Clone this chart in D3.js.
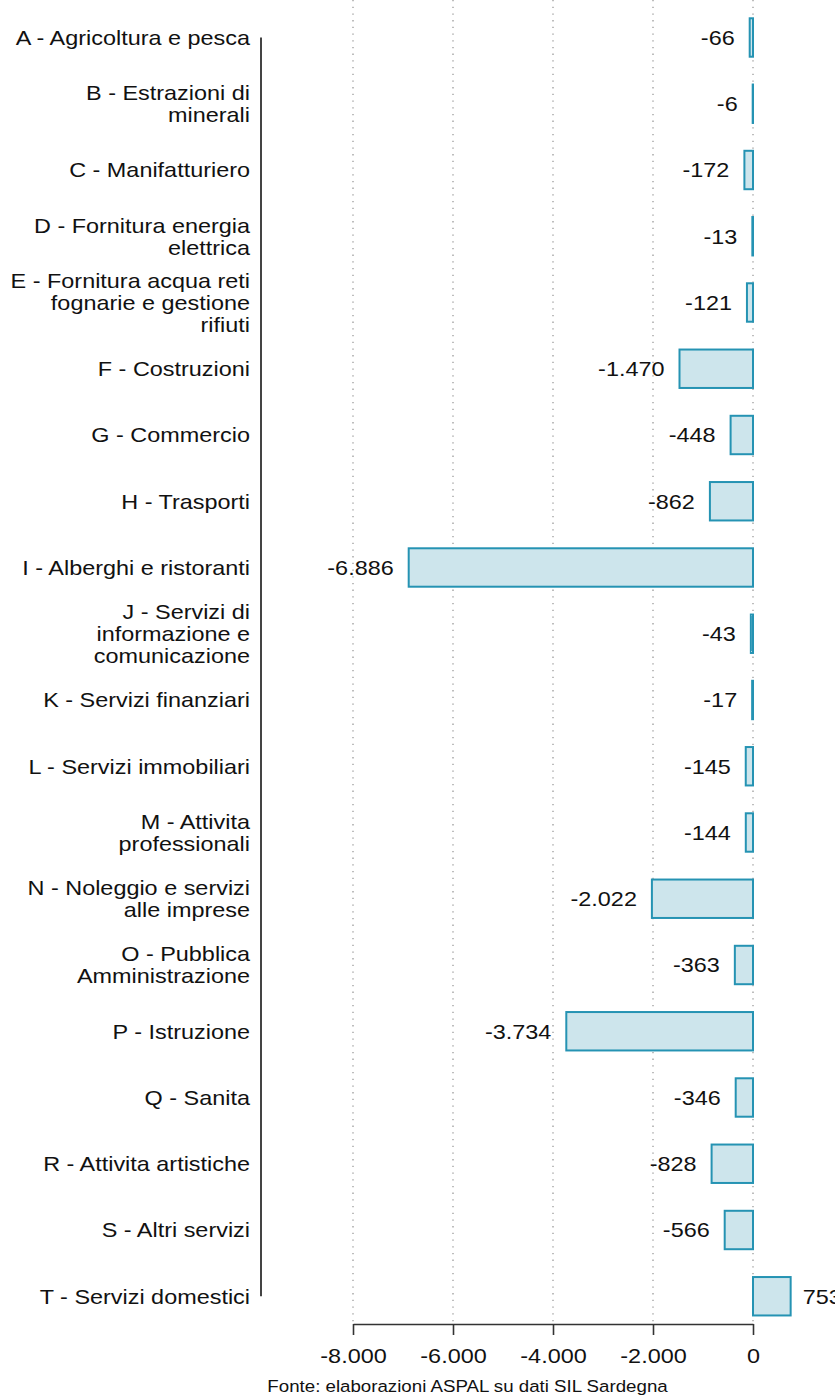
<!DOCTYPE html>
<html><head><meta charset="utf-8">
<script src="https://cdn.jsdelivr.net/npm/d3@7"></script>
<style>
html,body{margin:0;padding:0;background:#fff;}
svg{display:block;font-family:"Liberation Sans",Arial,sans-serif;}
</style></head>
<body><svg id="c" width="835" height="1395"></svg>
<script>
const categories = [
  "A - Agricoltura e pesca",
  "B - Estrazioni di\nminerali",
  "C - Manifatturiero",
  "D - Fornitura energia\nelettrica",
  "E - Fornitura acqua reti\nfognarie e gestione\nrifiuti",
  "F - Costruzioni",
  "G - Commercio",
  "H - Trasporti",
  "I - Alberghi e ristoranti",
  "J - Servizi di\ninformazione e\ncomunicazione",
  "K - Servizi finanziari",
  "L - Servizi immobiliari",
  "M - Attivita\nprofessionali",
  "N - Noleggio e servizi\nalle imprese",
  "O - Pubblica\nAmministrazione",
  "P - Istruzione",
  "Q - Sanita",
  "R - Attivita artistiche",
  "S - Altri servizi",
  "T - Servizi domestici"
];
const values = [-66, -6, -172, -13, -121, -1470, -448, -862, -6886, -43, -17, -145, -144, -2022, -363, -3734, -346, -828, -566, 753];
const xTicks = [-8000, -6000, -4000, -2000, 0];
const sourceText = "Fonte: elaborazioni ASPAL su dati SIL Sardegna";

const SX = 1.115; // horizontal text stretch seen in the reference
const svg = d3.select("#c");
const loc = d3.formatLocale({decimal: ",", thousands: ".", grouping: [3], currency: ["", "€"], minus: "-"});
const fmt = loc.format(",d");

const x = d3.scaleLinear().domain([-8000, 0]).range([353, 753]);
const y = d3.scaleBand().domain(categories).range([4.375, 1329.375]).paddingInner(0.42).paddingOuter(0.21);
const yc = (i) => y(categories[i]) + y.bandwidth() / 2;

// gridlines
svg.append("g").selectAll("line").data(xTicks).join("line")
  .attr("x1", d => x(d)).attr("x2", d => x(d))
  .attr("y1", 0).attr("y2", 1322)
  .attr("stroke", "#9a9a9a").attr("stroke-width", 1.3)
  .attr("stroke-dasharray", "1.3,5.4");

// bars
svg.append("g").selectAll("rect").data(values).join("rect")
  .attr("x", d => x(Math.min(0, d)))
  .attr("width", d => Math.abs(x(d) - x(0)))
  .attr("y", (d, i) => y(categories[i]))
  .attr("height", y.bandwidth())
  .attr("fill", "#cde5ec")
  .attr("stroke", "#2593b3")
  .attr("stroke-width", 2);

// value labels
svg.append("g").selectAll("text").data(values).join("text")
  .attr("transform", (d, i) => `translate(${d < 0 ? x(d) - 15 : x(d) + 12},${yc(i)}) scale(${SX},1)`)
  .attr("dy", "0.35em")
  .attr("text-anchor", d => d < 0 ? "end" : "start")
  .attr("font-size", 21).attr("fill", "#111")
  .text(d => fmt(d));

// left axis line
svg.append("line").attr("x1", 261).attr("x2", 261).attr("y1", yc(0)).attr("y2", yc(categories.length - 1))
  .attr("stroke", "#444").attr("stroke-width", 2);

// category labels
const lab = svg.append("g").selectAll("text").data(categories).join("text")
  .attr("text-anchor", "end").attr("font-size", 21).attr("fill", "#111")
  .attr("transform", (d, i) => `translate(250,${yc(i)}) scale(${SX},1)`);
lab.each(function(d) {
  const lines = d.split("\n");
  const n = lines.length;
  d3.select(this).selectAll("tspan").data(lines).join("tspan")
    .attr("x", 0)
    .attr("y", (l, j) => (j - (n - 1) / 2) * 22)
    .attr("dy", "0.35em")
    .text(l => l);
});

// bottom axis
const ax = svg.append("g").attr("transform", "translate(0,1324)")
  .call(d3.axisBottom(x).tickValues(xTicks).tickFormat(d => fmt(d)).tickSizeInner(11).tickSizeOuter(0).tickPadding(13));
ax.select(".domain").attr("stroke", "#333").attr("stroke-width", 1.6);
ax.selectAll(".tick line").attr("stroke", "#333").attr("stroke-width", 1.6);
ax.selectAll(".tick text").attr("font-size", 21).attr("fill", "#111")
  .attr("font-family", "Liberation Sans, Arial, sans-serif")
  .attr("transform", `scale(${SX},1)`);

// source
svg.append("text").attr("transform", `translate(467.5,1392) scale(1.1,1)`).attr("text-anchor", "middle")
  .attr("font-size", 17).attr("fill", "#111").text(sourceText);
</script></body></html>
